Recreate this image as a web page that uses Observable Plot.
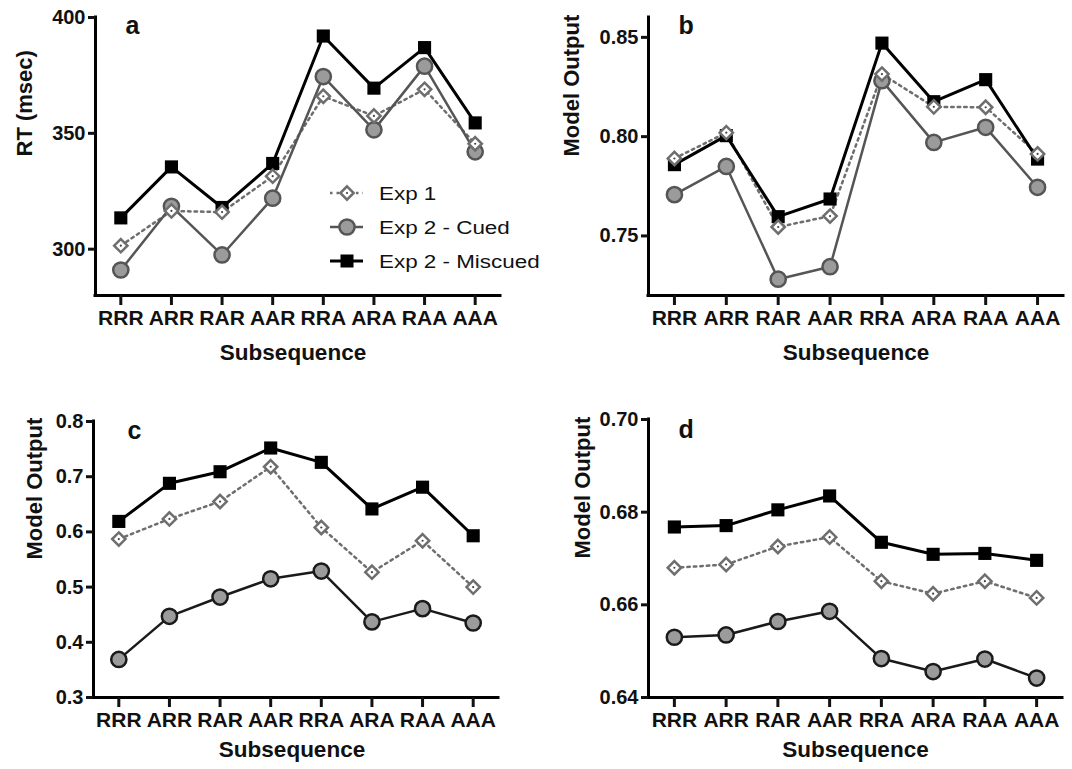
<!DOCTYPE html>
<html><head><meta charset="utf-8">
<script src="https://cdn.jsdelivr.net/npm/d3@7"></script>
<script src="https://cdn.jsdelivr.net/npm/@observablehq/plot@0.6"></script>
<style>
html,body{margin:0;padding:0;background:#fff;}
#wrap{position:relative;width:1072px;height:769px;overflow:hidden;font-family:"Liberation Sans",Arial,sans-serif;}
#wrap > svg{position:absolute;overflow:visible;}
#legend{position:absolute;left:310px;top:175px;overflow:visible;}
</style></head>
<body><div id="wrap"></div>
<script>
const subsequences = ["RRR","ARR","RAR","AAR","RRA","ARA","RAA","AAA"];
const seriesNames = ["Exp 1","Exp 2 - Cued","Exp 2 - Miscued"];

// Panel a: RT (msec)
const exp1A    = [301.5, 316.5, 316.0, 331.5, 366.0, 357.5, 369.0, 345.5];
const cuedA    = [291.0, 318.5, 297.5, 322.0, 374.5, 351.5, 379.0, 342.0];
const miscuedA = [313.5, 335.5, 318.0, 337.0, 392.0, 369.5, 387.0, 354.5];
const yTicksA  = [300, 350, 400];

// Panel b: Model Output
const exp1B    = [0.7890, 0.8020, 0.7545, 0.7600, 0.8315, 0.8150, 0.8148, 0.7913];
const cuedB    = [0.7708, 0.7850, 0.7282, 0.7345, 0.8282, 0.7971, 0.8047, 0.7745];
const miscuedB = [0.7859, 0.8005, 0.7597, 0.7686, 0.8471, 0.8176, 0.8287, 0.7887];
const yTicksB  = [0.75, 0.80, 0.85];

// Panel c: Model Output
const exp1C    = [0.587, 0.6235, 0.655, 0.718, 0.608, 0.527, 0.584, 0.500];
const cuedC    = [0.369, 0.447, 0.482, 0.515, 0.529, 0.437, 0.461, 0.435];
const miscuedC = [0.619, 0.688, 0.709, 0.752, 0.726, 0.6416, 0.681, 0.593];
const yTicksC  = [0.3, 0.4, 0.5, 0.6, 0.7, 0.8];

// Panel d: Model Output
const exp1D    = [0.6680, 0.6687, 0.6726, 0.6746, 0.6651, 0.6624, 0.6651, 0.6615];
const cuedD    = [0.6530, 0.6535, 0.6564, 0.6586, 0.6484, 0.6456, 0.6483, 0.6442];
const miscuedD = [0.6768, 0.6771, 0.6805, 0.6835, 0.6735, 0.6709, 0.6711, 0.6696];
const yTicksD  = [0.64, 0.66, 0.68, 0.70];

const FONT = "Liberation Sans, Arial, sans-serif";
const EXP1_GRAY = "#6e6e6e";
const CUED_FILL = "#9b9b9b";

function rows(values) {
  return values.map((v, i) => ({idx: i, subsequence: subsequences[i], value: v}));
}

function panel(cfg) {
  const e1 = rows(cfg.exp1), cu = rows(cfg.cued), mi = rows(cfg.miscued);
  const svg = Plot.plot({
    width: cfg.width, height: cfg.height,
    marginLeft: cfg.m[0], marginRight: cfg.m[1], marginTop: cfg.m[2], marginBottom: cfg.m[3],
    style: {fontFamily: FONT, color: "#111", background: "transparent", overflow: "visible"},
    x: {type: "linear", domain: [-0.5, subsequences.length - 0.5], axis: null},
    y: {domain: cfg.yDomain, axis: null},
    marks: [
      Plot.ruleY([cfg.yDomain[0]], {stroke: "#000", strokeWidth: 3, strokeLinecap: "square"}),
      Plot.ruleX([-0.5], {stroke: "#000", strokeWidth: 3, strokeLinecap: "square"}),
      Plot.axisY({ticks: cfg.yTicks, tickFormat: d3.format(cfg.yFormat), tickSize: 7, strokeWidth: 3,
        tickPadding: 3, fontSize: 20, fontWeight: "bold", label: null}),
      Plot.axisX({ticks: d3.range(subsequences.length), tickFormat: i => subsequences[i], tickSize: 10,
        strokeWidth: 3, tickPadding: 5, fontSize: 21, fontWeight: "bold", label: null}),
      Plot.text([cfg.ylabel], {frameAnchor: "left", rotate: -90, dx: cfg.ylabelDx, fontSize: 22,
        fontWeight: "bold", lineAnchor: "middle"}),
      Plot.text(["Subsequence"], {frameAnchor: "bottom", dx: cfg.xlabelDx, dy: cfg.xlabelDy, fontSize: 22.5,
        fontWeight: "bold", lineAnchor: "bottom"}),
      Plot.text([cfg.letter], {frameAnchor: "top-left", textAnchor: "start", lineAnchor: "bottom",
        dx: cfg.letterPos[0], dy: cfg.letterPos[1], fontSize: 25, fontWeight: "bold"}),
      Plot.line(e1, {x: "idx", y: "value", stroke: EXP1_GRAY, strokeWidth: 2.5, strokeDasharray: "2.5,4"}),
      Plot.line(cu, {x: "idx", y: "value", stroke: cfg.cuedStroke, strokeWidth: 2.5}),
      Plot.line(mi, {x: "idx", y: "value", stroke: "#000", strokeWidth: 3}),
      Plot.dot(cu, {x: "idx", y: "value", r: 7.6, fill: CUED_FILL, stroke: cfg.cuedStroke, strokeWidth: 2.5}),
      Plot.dot(mi, {x: "idx", y: "value", symbol: "square", r: 7.4, fill: "#000"}),
      Plot.dot(e1, {x: "idx", y: "value", symbol: "diamond2", r: 6, fill: "#fff", stroke: EXP1_GRAY, strokeWidth: 2.5}),
      Plot.dot(e1, {x: "idx", y: "value", r: 1.1, fill: "#444"})
    ]
  });
  svg.style.left = cfg.left + "px";
  svg.style.top = cfg.top + "px";
  return svg;
}

const wrap = document.getElementById("wrap");
wrap.appendChild(panel({letter: "a", ylabel: "RT (msec)", exp1: exp1A, cued: cuedA, miscued: miscuedA,
  yDomain: [280, 400], yTicks: yTicksA, yFormat: "d", cuedStroke: "#555",
  left: 0, top: 0, width: 536, height: 385, m: [95, 36, 17, 90],
  ylabelDx: -71, xlabelDx: -5, xlabelDy: 64, letterPos: [30, 16]}));
wrap.appendChild(panel({letter: "b", ylabel: "Model Output", exp1: exp1B, cued: cuedB, miscued: miscuedB,
  yDomain: [0.72, 0.86], yTicks: yTicksB, yFormat: ".2f", cuedStroke: "#555",
  left: 536, top: 0, width: 536, height: 385, m: [112, 9, 17, 90],
  ylabelDx: -77, xlabelDx: 0, xlabelDy: 64, letterPos: [30, 16]}));
wrap.appendChild(panel({letter: "c", ylabel: "Model Output", exp1: exp1C, cued: cuedC, miscued: miscuedC,
  yDomain: [0.3, 0.8], yTicks: yTicksC, yFormat: ".1f", cuedStroke: "#1a1a1a",
  left: 0, top: 385, width: 536, height: 384, m: [93, 38, 36, 72],
  ylabelDx: -59, xlabelDx: -4, xlabelDy: 59, letterPos: [34, 17]}));
wrap.appendChild(panel({letter: "d", ylabel: "Model Output", exp1: exp1D, cued: cuedD, miscued: miscuedD,
  yDomain: [0.64, 0.70], yTicks: yTicksD, yFormat: ".2f", cuedStroke: "#1a1a1a",
  left: 536, top: 385, width: 536, height: 384, m: [112, 10, 34, 72],
  ylabelDx: -66, xlabelDx: 0, xlabelDy: 59, letterPos: [30, 18]}));

// Legend (panel a)
const leg = d3.select(wrap).append("svg").attr("id", "legend").attr("width", 240).attr("height", 100);
const styles = [
  {line: {stroke: EXP1_GRAY, w: 2.5, dash: "2.5,4"}, sym: "diamond"},
  {line: {stroke: "#555", w: 2.5, dash: null}, sym: "circle"},
  {line: {stroke: "#000", w: 3, dash: null}, sym: "square"}
];
seriesNames.forEach((name, i) => {
  const cy = 18 + i * 34, cx = 37;
  const g = leg.append("g");
  const st = styles[i];
  g.append("line").attr("x1", 20).attr("x2", 53).attr("y1", cy).attr("y2", cy)
    .attr("stroke", st.line.stroke).attr("stroke-width", st.line.w).attr("stroke-dasharray", st.line.dash);
  if (st.sym === "diamond") {
    g.append("path").attr("d", d3.symbol(d3.symbolDiamond2, Math.PI * 6 * 6)()).attr("transform", `translate(${cx},${cy})`)
      .attr("fill", "#fff").attr("stroke", EXP1_GRAY).attr("stroke-width", 2.5);
    g.append("circle").attr("cx", cx).attr("cy", cy).attr("r", 1.1).attr("fill", "#444");
  } else if (st.sym === "circle") {
    g.append("circle").attr("cx", cx).attr("cy", cy).attr("r", 7.6).attr("fill", CUED_FILL)
      .attr("stroke", "#555").attr("stroke-width", 2.5);
  } else {
    g.append("rect").attr("x", cx - 6.5).attr("y", cy - 6.5).attr("width", 13).attr("height", 13).attr("fill", "#000");
  }
  g.append("text").attr("transform", `translate(69,${cy}) scale(1.18,1)`).attr("dy", "0.35em").attr("font-size", 19)
    .attr("font-family", FONT).attr("fill", "#111").text(name);
});
</script>
</body></html>
